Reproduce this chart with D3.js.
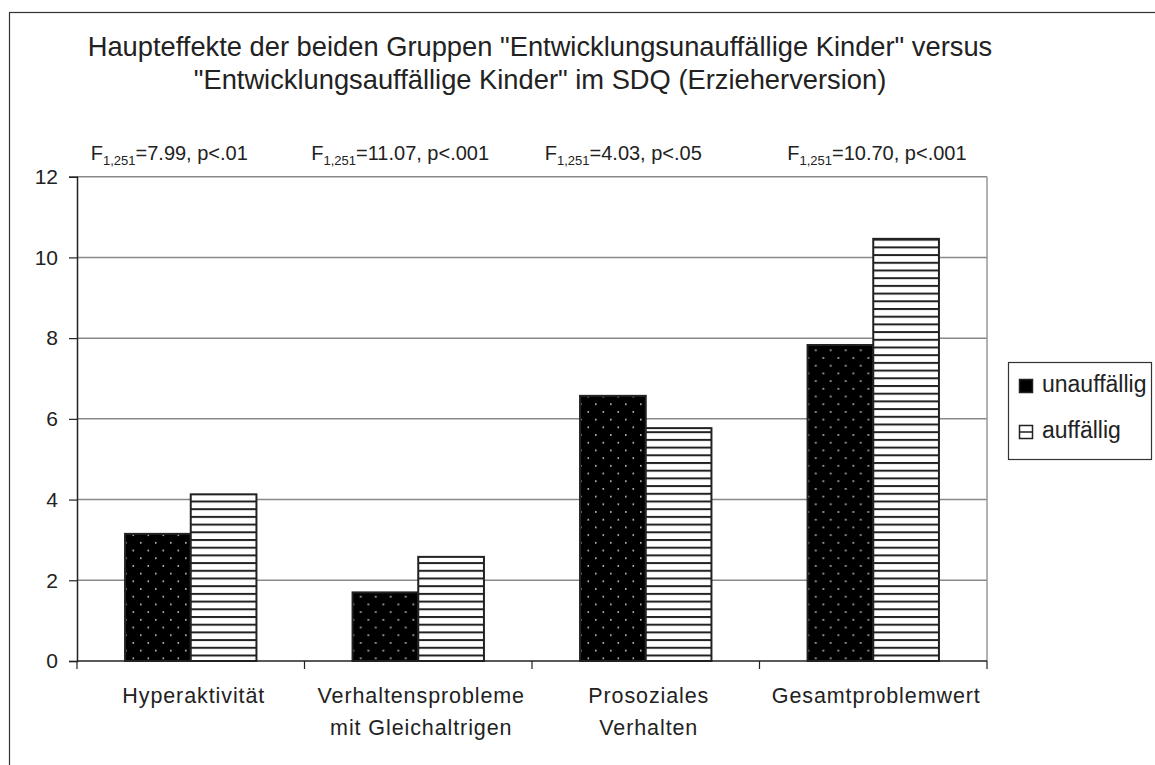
<!DOCTYPE html>
<html><head><meta charset="utf-8">
<script src="https://cdn.jsdelivr.net/npm/d3@7"></script>
<style>body{margin:0;background:#fff;}text{font-family:Arial,"Liberation Sans",sans-serif;fill:#222;}</style>
</head><body>
<svg id="chart" width="1155" height="765"></svg>
<script>
const categories = [["Hyperaktivität"], ["Verhaltensprobleme","mit Gleichaltrigen"], ["Prosoziales","Verhalten"], ["Gesamtproblemwert"]];
const seriesNames = ["unauffällig", "auffällig"];
const unauffaellig = [3.15, 1.70, 6.57, 7.83];
const auffaellig = [4.13, 2.58, 5.77, 10.46];
const yTicks = [0, 2, 4, 6, 8, 10, 12];
const fStats = [["7.99", "p<.01"], ["11.07", "p<.001"], ["4.03", "p<.05"], ["10.70", "p<.001"]];
const titleLines = ["Haupteffekte der beiden Gruppen \"Entwicklungsunauffällige Kinder\" versus", "\"Entwicklungsauffällige Kinder\" im SDQ (Erzieherversion)"];

const svg = d3.select("#chart");
const defs = svg.append("defs");
// dotted pattern
const pd = defs.append("pattern").attr("id","dots").attr("patternUnits","userSpaceOnUse").attr("width",15).attr("height",15.4);
pd.append("rect").attr("width",15).attr("height",15.4).attr("fill","#000");
pd.append("rect").attr("x",3).attr("y",3).attr("width",1.6).attr("height",1.6).attr("fill","#ccc");
pd.append("rect").attr("x",10.5).attr("y",10.7).attr("width",1.6).attr("height",1.6).attr("fill","#ccc");
// striped pattern
const ps = defs.append("pattern").attr("id","stripes").attr("patternUnits","userSpaceOnUse").attr("width",10).attr("height",7.7);
ps.append("rect").attr("width",10).attr("height",7.7).attr("fill","#fff");
ps.append("rect").attr("y",0).attr("width",10).attr("height",2).attr("fill","#222");

// outer frame
svg.append("rect").attr("x",9.5).attr("y",12.5).attr("width",1160).attr("height",760).attr("fill","none").attr("stroke","#333").attr("stroke-width",1.2);

const pLeft = 77, pRight = 987, pTop = 176.7, pBottom = 661;
const x0 = d3.scaleBand().domain(d3.range(categories.length)).range([pLeft, pRight]).paddingInner(0).paddingOuter(0);
const innerPad = (x0.bandwidth() - 131.4) / 2;
const x1 = d3.scaleBand().domain(seriesNames).range([innerPad, x0.bandwidth() - innerPad]);
const y = d3.scaleLinear().domain([0, 12]).range([pBottom, pTop]);

// gridlines
svg.append("g").selectAll("line").data(yTicks.filter(d=>d>0)).join("line")
  .attr("x1",pLeft).attr("x2",pRight).attr("y1",d=>y(d)).attr("y2",d=>y(d))
  .attr("stroke","#888").attr("stroke-width",1.5);
// plot area right border
svg.append("line").attr("x1",pRight).attr("x2",pRight).attr("y1",pTop).attr("y2",pBottom).attr("stroke","#999").attr("stroke-width",1.5);

// bars
const data = categories.map((c,i)=>({i, vals:[{s:seriesNames[0],v:unauffaellig[i]},{s:seriesNames[1],v:auffaellig[i]}]}));
const g = svg.append("g");
g.selectAll("g").data(data).join("g").attr("transform",d=>`translate(${x0(d.i)},0)`)
  .selectAll("rect").data(d=>d.vals).join("rect")
  .attr("x",d=>x1(d.s)).attr("width",x1.bandwidth())
  .attr("y",d=>y(d.v)).attr("height",d=>y(0)-y(d.v))
  .attr("fill",d=>d.s===seriesNames[0]?"url(#dots)":"url(#stripes)")
  .attr("stroke","#222").attr("stroke-width",2);

// y axis
const yAxis = d3.axisLeft(y).tickValues(yTicks).tickSize(8).tickPadding(11).tickFormat(d3.format("d"));
const ya = svg.append("g").attr("transform",`translate(${pLeft},0)`).call(yAxis);
ya.select(".domain").attr("stroke","#222").attr("stroke-width",1.5);
ya.selectAll(".tick line").attr("stroke","#222").attr("stroke-width",1.2);
ya.selectAll(".tick text").attr("font-size",21).attr("fill","#222").attr("font-family","Arial, 'Liberation Sans', sans-serif");

// x axis
const xa = svg.append("g").attr("transform",`translate(0,${pBottom})`);
xa.append("line").attr("x1",pLeft).attr("x2",pRight).attr("stroke","#222").attr("stroke-width",1.5);
xa.selectAll("line.t").data(d3.range(categories.length+1)).join("line").attr("class","t")
  .attr("x1",i=>pLeft+i*x0.bandwidth()).attr("x2",i=>pLeft+i*x0.bandwidth()).attr("y1",0).attr("y2",8)
  .attr("stroke","#222").attr("stroke-width",1.2);
xa.selectAll("text.c").data(categories).join("text").attr("class","c")
  .attr("text-anchor","middle").attr("font-size",21.5).attr("letter-spacing",0.9)
  .each(function(lines,i){
    const t = d3.select(this);
    lines.forEach((l,k)=>t.append("tspan").attr("x",x0(i)+x0.bandwidth()/2+3).attr("y",42+k*32).text(l));
  });

// title
svg.append("g").selectAll("text").data(titleLines).join("text")
  .attr("x",540).attr("y",(d,i)=>56+i*33).attr("text-anchor","middle").attr("font-size",27.3).text(d=>d);

// F statistics
const fOffsets = [-100, -107, -101, -86];
const fg = svg.append("g");
fStats.forEach((f,i)=>{
  const t = fg.append("text").attr("x",x0(i)+x0.bandwidth()/2+fOffsets[i]).attr("y",160).attr("font-size",20);
  t.append("tspan").text("F");
  t.append("tspan").attr("font-size",13).attr("dy",5).text("1,251");
  t.append("tspan").attr("dy",-5).text("=" + f[0] + ", " + f[1]);
});

// legend
const lg = svg.append("g");
lg.append("rect").attr("x",1008.5).attr("y",362.5).attr("width",143).attr("height",97).attr("fill","#fff").attr("stroke","#333").attr("stroke-width",1.2);
const items = lg.selectAll("g").data(seriesNames).join("g").attr("transform",(d,i)=>`translate(1019,${392+i*46})`);
items.append("rect").attr("x",0.5).attr("y",-12.5).attr("width",13).attr("height",13)
  .attr("fill",(d,i)=>i===0?"#000":"#fff").attr("stroke","#222").attr("stroke-width",1.5);
items.filter((d,i)=>i===1).append("line").attr("x1",0.5).attr("x2",13.5).attr("y1",-6).attr("y2",-6).attr("stroke","#222").attr("stroke-width",1.5);
items.append("text").attr("x",23).attr("y",0).attr("font-size",23).text(d=>d);
</script>
</body></html>
